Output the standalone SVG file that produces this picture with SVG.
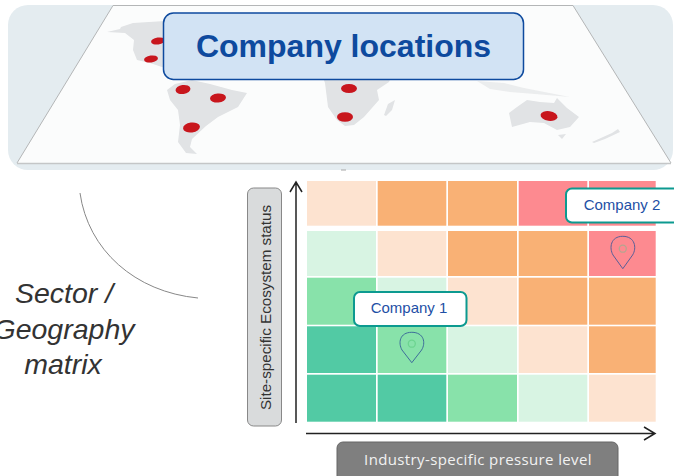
<svg xmlns="http://www.w3.org/2000/svg" width="674" height="476" viewBox="0 0 674 476">
<defs><filter id="soft" x="-5%" y="-5%" width="110%" height="110%"><feGaussianBlur stdDeviation="0.7"/></filter></defs>
<style>
.land{fill:#E1E3E5}
.dot{fill:#C8141F}
.peach{fill:#FDE3D0}.orange{fill:#F9B175}.red{fill:#FD8A90}.lg{fill:#D8F4E3}.mg{fill:#88E2AA}.dg{fill:#52CAA4}
.sans{font-family:"Liberation Sans",Arial,sans-serif}
.tag{fill:#fff;stroke:#0C9A90;stroke-width:2}
.tagt{font-size:15px;fill:#1E4FA5;text-anchor:middle}
.it{font-size:28.5px;font-style:italic;fill:#333;text-anchor:middle}
.ax{fill:none;stroke:#222;stroke-width:1.5}
</style>
<rect width="674" height="476" fill="#fff"/>
<g id="map">
<rect x="8" y="5" width="665" height="165" rx="20" fill="#E4ECF0"/>
<path d="M17 163 L113 5.500 H573 L671 163Z" fill="#FBFCFC"/>
<path d="M17 163 L113 5.500 H573 L671 163" fill="none" stroke="#B4B6B7" stroke-width="1"/>
<path d="M17 163.500 H671" stroke="#C4C6C7" stroke-width="1.500" fill="none"/>
<g filter="url(#soft)">
<path class="land" d="M107 32 L120 29 L121 27 L133 23 L165 21 V68 L150 63 L137 60 L133 50 L134 40 L125 33Z"/>
<path class="land" d="M167 90 L175 84 L192 80 L210 84 L232 90 L247 93 L238 107 L218 117 L206 126 L192 139 L190 147 L197 154 L186 153 L178 142 L180 125 L178 110 L170 100Z"/>
<path class="land" d="M322 75 L392 75 L389 82 L377 90 L379 100 L364 117 L354 125 L345 126 L337 120 L328 107 L325 83Z"/>
<path class="land" d="M384 115 L388 104 L395 100 L392 110 L386 116Z"/>
<path class="land" d="M509 113 L517 107 L527 100 L540 102 L554 103 L557 98 L567 108 L579 117 L570 127 L557 130 L544 123 L530 122 L512 127Z"/>
<path class="land" d="M558 135 L566 134 L562 139Z"/>
<path class="land" d="M592 142 L612 133 L618 129 L620 132 L605 139 L594 143Z"/>
<path class="land" opacity=".6" d="M477 81 L504 83 L524 88 L570 97 L535 94 L510 92 L490 89Z"/>
<ellipse class="dot" cx="158" cy="41" rx="7" ry="3.500" transform="rotate(-8 158 41)"/>
<ellipse class="dot" cx="151" cy="59" rx="7" ry="3.500" transform="rotate(-8 151 59)"/>
<ellipse class="dot" cx="183" cy="89.500" rx="7.500" ry="4.500" transform="rotate(-8 183 89.500)"/>
<ellipse class="dot" cx="218" cy="98" rx="8" ry="4.500" transform="rotate(-5 218 98)"/>
<ellipse class="dot" cx="191.500" cy="127.500" rx="8.500" ry="5" transform="rotate(-8 191.500 127.500)"/>
<ellipse class="dot" cx="349" cy="88.500" rx="8" ry="4.500"/>
<ellipse class="dot" cx="345" cy="117" rx="8" ry="4.800"/>
<ellipse class="dot" cx="549" cy="116" rx="8.500" ry="4.800" transform="rotate(8 549 116)"/>
</g>
<path d="M341 170 H346" stroke="#A8A8A8" stroke-width="1" fill="none"/>
</g>
<g id="title">
<rect x="163.500" y="13" width="360" height="66.500" rx="10" fill="#D2E3F4" stroke="#0E4A9E" stroke-width="1.500"/>
<text class="sans" x="343.500" y="57" font-size="32" font-weight="700" fill="#0E4A9E" text-anchor="middle">Company locations</text>
</g>
<g id="matrix">
<rect class="peach" x="307" y="181" width="69" height="44.700"/><rect class="orange" x="377.700" y="181" width="68.600" height="44.700"/><rect class="orange" x="448" y="181" width="69" height="44.700"/><rect class="red" x="518.700" y="181" width="68.600" height="44.700"/><rect class="red" x="589" y="181" width="66.700" height="44.700"/>
<rect class="lg" x="307" y="231" width="69" height="45"/><rect class="peach" x="377.700" y="231" width="68.600" height="45"/><rect class="orange" x="448" y="231" width="69" height="45"/><rect class="orange" x="518.700" y="231" width="68.600" height="45"/><rect class="red" x="589" y="231" width="66.700" height="45"/>
<rect class="mg" x="307" y="277.700" width="69" height="47"/><rect class="lg" x="377.700" y="277.700" width="68.600" height="47"/><rect class="peach" x="448" y="277.700" width="69" height="47"/><rect class="orange" x="518.700" y="277.700" width="68.600" height="47"/><rect class="orange" x="589" y="277.700" width="66.700" height="47"/>
<rect class="dg" x="307" y="326.300" width="69" height="46.700"/><rect class="mg" x="377.700" y="326.300" width="68.600" height="46.700"/><rect class="lg" x="448" y="326.300" width="69" height="46.700"/><rect class="peach" x="518.700" y="326.300" width="68.600" height="46.700"/><rect class="orange" x="589" y="326.300" width="66.700" height="46.700"/>
<rect class="dg" x="307" y="374.700" width="69" height="47"/><rect class="dg" x="377.700" y="374.700" width="68.600" height="47"/><rect class="mg" x="448" y="374.700" width="69" height="47"/><rect class="lg" x="518.700" y="374.700" width="68.600" height="47"/><rect class="peach" x="589" y="374.700" width="66.700" height="47"/>
</g>
<g id="connectors">
<path d="M80 193 C88 250 135 292 198 298" fill="none" stroke="#888" stroke-width="1"/>
<path class="ax" d="M296 423 V182 M290 192 L296 182 L302 192"/>
<path class="ax" d="M306 433.500 H655 M644 427 L655 433.500 L644 440"/>
</g>
<g id="pin1">
<path d="M411.800 362.700 L402 350 C398 343 399.500 332.300 411.800 332.300 C424 332.300 426 343 421.600 350 Z" fill="none" stroke="#3E6E9A" stroke-width="1"/>
<circle cx="411.800" cy="343.700" r="3.500" fill="none" stroke="#6CD490" stroke-width="1.300"/>
</g>
<g id="pin2">
<path d="M622.800 268.700 L613 255 C609 248 610.500 236.300 622.800 236.300 C635 236.300 637 248 632.600 255 Z" fill="none" stroke="#5A5F98" stroke-width="1"/>
<circle cx="622.800" cy="248.700" r="3.500" fill="none" stroke="#B5A58F" stroke-width="1.300"/>
</g>
<g id="company1">
<rect class="tag" x="354" y="292" width="112.500" height="34" rx="6"/>
<text class="sans tagt" x="409" y="313">Company 1</text>
</g>
<g id="company2">
<rect class="tag" x="566" y="188.500" width="125" height="34" rx="6"/>
<text class="sans tagt" x="622" y="210">Company 2</text>
</g>
<g id="y-label">
<rect x="247.500" y="188" width="34" height="238" rx="6" fill="#D9DBDC" stroke="#888" stroke-width="1"/>
<text class="sans" font-size="15.200" text-anchor="middle" transform="translate(270.500 307.500) rotate(-90)" fill="#333">Site-specific Ecosystem status</text>
</g>
<g id="x-label">
<rect x="337" y="442" width="281" height="40" rx="6" fill="#7F7F7F" stroke="#666" stroke-width="1"/>
<text x="478" y="465" font-family="'Open Sans',sans-serif" font-size="15" letter-spacing=".37" text-anchor="middle" fill="#F2F2F2">Industry-specific pressure level</text>
</g>
<g id="caption">
<text class="sans it" x="64" y="303">Sector /</text>
<text class="sans it" x="64" y="339">Geography</text>
<text class="sans it" x="63" y="374">matrix</text>
</g>
</svg>
